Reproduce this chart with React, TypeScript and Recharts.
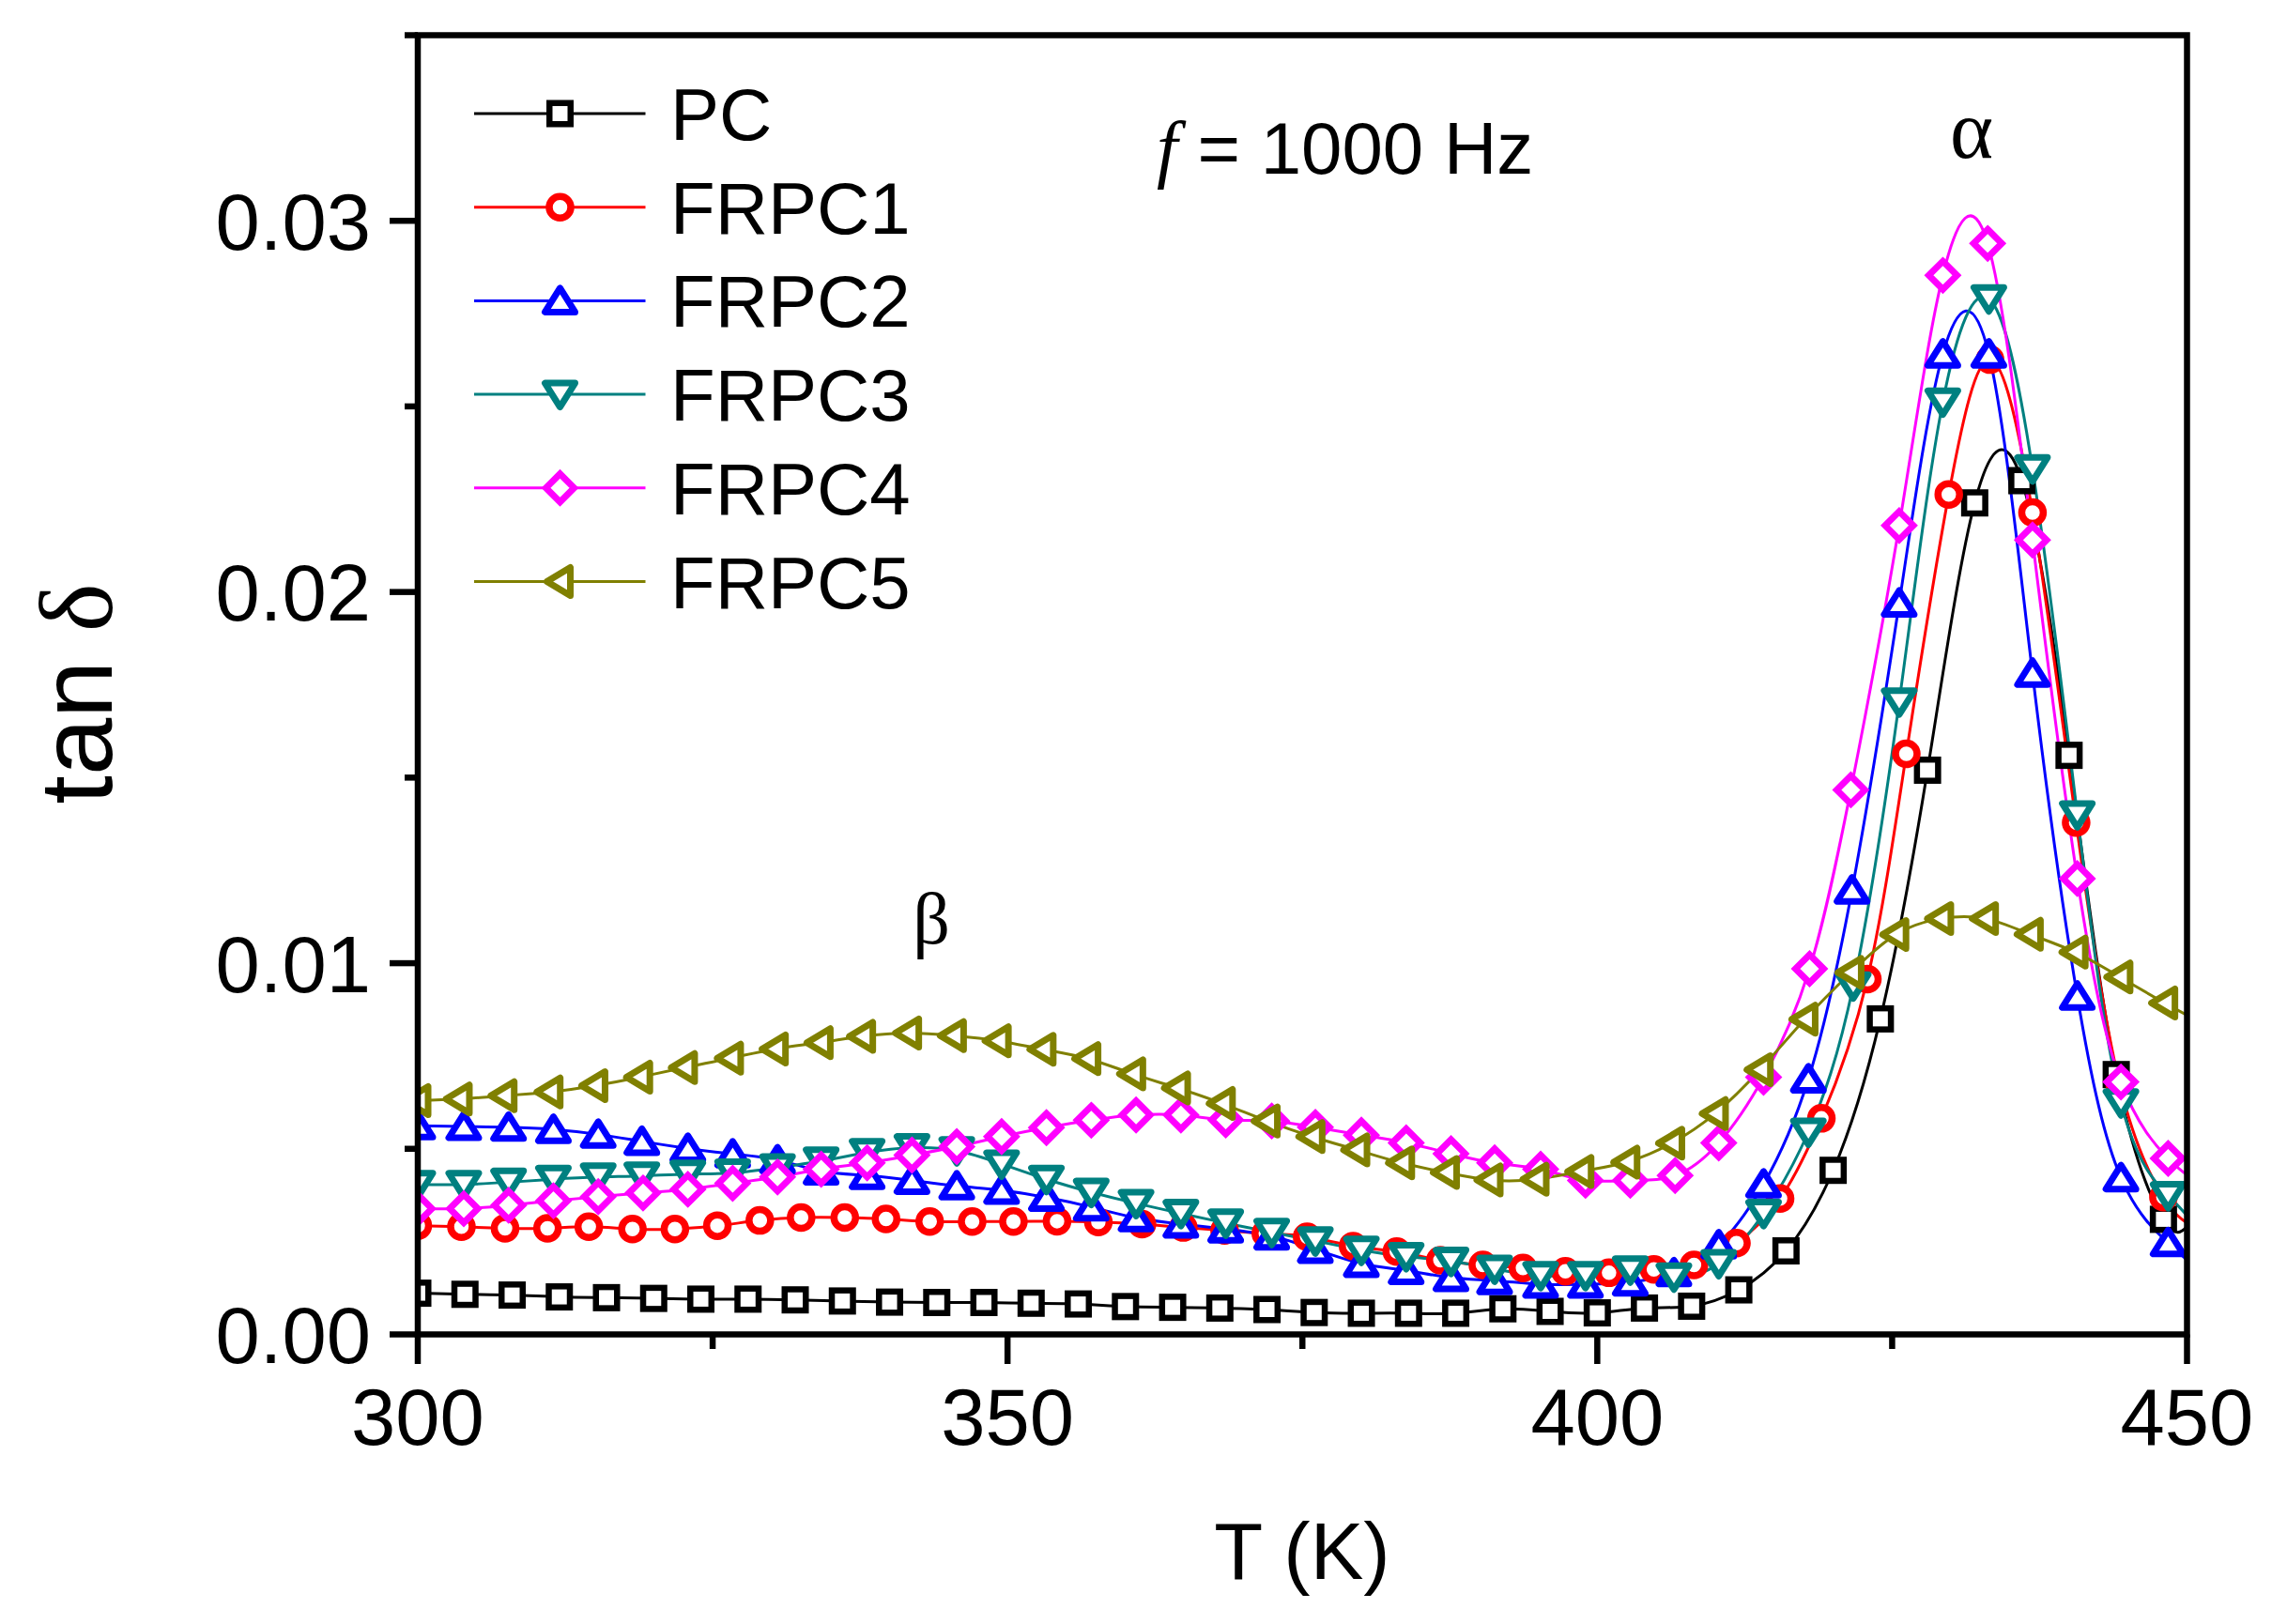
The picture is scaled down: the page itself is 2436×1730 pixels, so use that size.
import React from 'react';
import { LineChart, Line, XAxis, YAxis } from 'recharts';

// ---------- data (T in K, tan delta) ----------
const PC_T = [300, 304, 308, 312, 316, 320, 324, 328, 332, 336, 340, 344, 348, 352, 356, 360, 364, 368, 372, 376, 380, 384, 388, 392, 396, 400, 404, 408, 412, 416, 420, 424, 428, 432, 436, 440, 444, 448, 450];
const PC_V = [0.00111, 0.00108, 0.00106, 0.00101, 0.00099, 0.00097, 0.00095, 0.00095, 0.00093, 0.0009, 0.00087, 0.00086, 0.00086, 0.00084, 0.00082, 0.00075, 0.00073, 0.00071, 0.00067, 0.00059, 0.00057, 0.00057, 0.00057, 0.00069, 0.00062, 0.00058, 0.00071, 0.00076, 0.0012, 0.00225, 0.00442, 0.0085, 0.0152, 0.0224, 0.0230, 0.0156, 0.0070, 0.0031, 0.0029];

const FRPC1_T = [300, 303.7, 307.4, 311.0, 314.5, 318.2, 321.8, 325.4, 329.0, 332.5, 336.2, 339.7, 343.4, 347.0, 350.5, 354.2, 357.7, 361.4, 364.9, 368.4, 371.9, 375.4, 379.3, 383.0, 386.7, 390.3, 393.7, 397.3, 401.0, 404.8, 408.2, 411.8, 415.5, 419.0, 422.9, 426.2, 429.8, 433.3, 436.9, 440.6, 444.3, 448.0, 450];
const FRPC1_V = [0.00293, 0.0029, 0.00286, 0.00286, 0.0029, 0.00284, 0.00284, 0.00293, 0.00307, 0.00315, 0.00315, 0.00311, 0.00304, 0.00304, 0.00304, 0.00305, 0.00303, 0.00297, 0.00288, 0.0028, 0.00272, 0.00263, 0.00238, 0.00223, 0.002, 0.00187, 0.00179, 0.0017, 0.00166, 0.00175, 0.00187, 0.00246, 0.00366, 0.00582, 0.00957, 0.01564, 0.02263, 0.02626, 0.02214, 0.01379, 0.00673, 0.0037, 0.0030];

const FRPC2_T = [300, 303.9, 307.7, 311.5, 315.3, 319.0, 322.9, 326.7, 330.5, 334.2, 338.1, 341.9, 345.7, 349.5, 353.3, 357.1, 360.9, 364.7, 368.5, 372.4, 376.1, 380.0, 383.8, 387.6, 391.3, 395.2, 399.0, 402.8, 406.5, 410.3, 414.1, 417.9, 421.6, 425.6, 429.3, 433.2, 436.9, 440.7, 444.4, 448.4, 450];
const FRPC2_V = [0.00562, 0.0056, 0.00558, 0.00552, 0.00539, 0.0052, 0.00501, 0.00486, 0.0047, 0.0044, 0.00428, 0.00415, 0.004, 0.00388, 0.00369, 0.00343, 0.00314, 0.00297, 0.00284, 0.00265, 0.00229, 0.00191, 0.00172, 0.00153, 0.00145, 0.00135, 0.00135, 0.00141, 0.00166, 0.00241, 0.00405, 0.00688, 0.01197, 0.0197, 0.02641, 0.02641, 0.01781, 0.00911, 0.00422, 0.00247, 0.0020];

const FRPC3_T = [300, 303.9, 307.7, 311.5, 315.3, 319.0, 322.9, 326.7, 330.5, 334.2, 338.1, 341.9, 345.7, 349.5, 353.3, 357.1, 360.9, 364.7, 368.5, 372.4, 376.1, 380.0, 383.8, 387.6, 391.3, 395.2, 399.0, 402.8, 406.5, 410.3, 414.1, 417.9, 421.7, 425.6, 429.3, 433.2, 436.9, 440.7, 444.4, 448.4, 450];
const FRPC3_V = [0.00404, 0.00404, 0.0041, 0.00418, 0.00424, 0.00427, 0.00432, 0.00435, 0.00449, 0.00467, 0.0049, 0.00503, 0.00495, 0.00459, 0.00418, 0.00383, 0.00353, 0.00326, 0.003, 0.00275, 0.00252, 0.00227, 0.0021, 0.00197, 0.00176, 0.00159, 0.00159, 0.00174, 0.00155, 0.00191, 0.00326, 0.00545, 0.00939, 0.01704, 0.02512, 0.0279, 0.02332, 0.0140, 0.00624, 0.00374, 0.0032];

const FRPC4_T = [300, 303.9, 307.7, 311.5, 315.3, 319.1, 322.9, 326.7, 330.5, 334.2, 338.1, 341.9, 345.7, 349.5, 353.3, 357.1, 360.9, 364.7, 368.5, 372.4, 376.1, 380.0, 383.8, 387.6, 391.3, 395.2, 399.0, 402.8, 406.6, 410.3, 414.1, 418.0, 421.5, 425.6, 429.3, 433.1, 436.9, 440.7, 444.4, 448.4, 450];
const FRPC4_V = [0.00339, 0.00339, 0.00348, 0.0036, 0.00371, 0.00381, 0.00391, 0.00407, 0.00424, 0.00445, 0.00462, 0.00483, 0.00506, 0.00533, 0.00557, 0.00577, 0.00591, 0.00591, 0.00578, 0.00575, 0.00558, 0.00537, 0.00516, 0.00487, 0.00462, 0.00445, 0.00415, 0.00415, 0.00428, 0.00516, 0.00693, 0.00985, 0.01467, 0.02179, 0.02853, 0.02939, 0.0214, 0.01228, 0.0068, 0.00474, 0.0043];

const FRPC5_T = [300, 303.5, 307.3, 311.2, 315.0, 318.8, 322.6, 326.5, 330.3, 334.1, 337.7, 341.6, 345.4, 349.2, 353.0, 356.8, 360.6, 364.4, 368.2, 372.0, 375.8, 379.6, 383.4, 387.2, 390.9, 394.8, 398.6, 402.5, 406.3, 410.0, 413.8, 417.6, 421.5, 425.3, 429.1, 432.9, 436.7, 440.5, 444.3, 448.1, 450];
const FRPC5_V = [0.0063, 0.00634, 0.00643, 0.00653, 0.0067, 0.00693, 0.00719, 0.00744, 0.00769, 0.00786, 0.00803, 0.00812, 0.00805, 0.00791, 0.00768, 0.00743, 0.00702, 0.00664, 0.00622, 0.00575, 0.00533, 0.00497, 0.00462, 0.00436, 0.00416, 0.00418, 0.00439, 0.00464, 0.00515, 0.00595, 0.00713, 0.00849, 0.00975, 0.01077, 0.0112, 0.0112, 0.01078, 0.0103, 0.00963, 0.00893, 0.0086];

const SERIES_NAMES = ['PC', 'FRPC1', 'FRPC2', 'FRPC3', 'FRPC4', 'FRPC5'];
const SERIES_COLORS = ['#000000', '#FF0000', '#0000FF', '#008080', '#FF00FF', '#808000'];
const SERIES_SHAPES = ['square', 'circle', 'up', 'down', 'diamond', 'left'];

const X_TICKS = [300, 325, 350, 375, 400, 425, 450];
const Y_TICKS = [0, 0.005, 0.01, 0.015, 0.02, 0.025, 0.03, 0.035];

const toRows = (t: number[], v: number[]) => t.map((T, i) => ({ T, v: v[i] }));
const SERIES_DATA = [
  toRows(PC_T, PC_V),
  toRows(FRPC1_T, FRPC1_V),
  toRows(FRPC2_T, FRPC2_V),
  toRows(FRPC3_T, FRPC3_V),
  toRows(FRPC4_T, FRPC4_V),
  toRows(FRPC5_T, FRPC5_V),
];

// ---------- layout ----------
const W = 2436;
const H = 1730;
const PLOT_LEFT = 445;
const PLOT_RIGHT = 2329.5;
const PLOT_TOP = 37.5;
const PLOT_BOTTOM = 1421.5;
const SANS = '"Liberation Sans", Arial, Helvetica, sans-serif';
const SERIF = '"Liberation Serif", "Times New Roman", serif';

function Marker({ shape, cx, cy, color }: { shape: string; cx: number; cy: number; color: string }) {
  const common = { fill: '#ffffff', stroke: color };
  switch (shape) {
    case 'square':
      return <rect x={cx - 11.25} y={cy - 11.25} width={22.5} height={22.5} {...common} strokeWidth={6.5} />;
    case 'circle':
      return <circle cx={cx} cy={cy} r={11.5} {...common} strokeWidth={7.5} />;
    case 'up':
      return (
        <polygon
          points={`${cx},${cy - 13.5} ${cx - 16},${cy + 12} ${cx + 16},${cy + 12}`}
          {...common}
          strokeWidth={7}
          strokeLinejoin="round"
        />
      );
    case 'down':
      return (
        <polygon
          points={`${cx},${cy + 13.5} ${cx - 16},${cy - 12} ${cx + 16},${cy - 12}`}
          {...common}
          strokeWidth={7}
          strokeLinejoin="round"
        />
      );
    case 'diamond':
      return (
        <polygon
          points={`${cx},${cy - 15} ${cx + 15},${cy} ${cx},${cy + 15} ${cx - 15},${cy}`}
          {...common}
          strokeWidth={7}
          strokeLinejoin="miter"
        />
      );
    case 'left':
    default:
      return (
        <polygon
          points={`${cx - 14},${cy} ${cx + 11},${cy - 15} ${cx + 11},${cy + 15}`}
          {...common}
          strokeWidth={7}
          strokeLinejoin="round"
        />
      );
  }
}

const XTick = (props: any) => {
  const { x, payload } = props;
  const v = payload.value;
  const major = Math.round(v) % 50 === 0;
  return (
    <g>
      <line x1={x} x2={x} y1={PLOT_BOTTOM} y2={PLOT_BOTTOM + (major ? 31.5 : 15.5)} stroke="#000" strokeWidth={6.5} />
      {major && (
        <text x={x} y={1539} textAnchor="middle" fontSize={85} fontFamily={SANS} fill="#000">
          {v}
        </text>
      )}
    </g>
  );
};

const YTick = (props: any) => {
  const { y, payload } = props;
  const v = payload.value;
  const major = Math.round(v * 1000) % 10 === 0;
  return (
    <g>
      <line x1={PLOT_LEFT} x2={PLOT_LEFT - (major ? 30 : 14)} y1={y} y2={y} stroke="#000" strokeWidth={6.5} />
      {major && (
        <text x={395} y={y + 30.5} textAnchor="end" fontSize={85} fontFamily={SANS} fill="#000">
          {v.toFixed(2)}
        </text>
      )}
    </g>
  );
};

const LEGEND_Y0 = 121;
const LEGEND_DY = 99.7;

export default function App() {
  return (
    <div style={{ position: 'absolute', left: 0, top: 0, width: W, height: H, background: '#ffffff' }}>
      <LineChart
        width={W}
        height={H}
        margin={{ top: PLOT_TOP, right: W - PLOT_RIGHT, bottom: 108.5, left: 0 }}
      >
        <XAxis
          type="number"
          dataKey="T"
          domain={[300, 450]}
          allowDataOverflow
          ticks={X_TICKS}
          interval={0}
          tick={XTick}
          tickLine={false}
          axisLine={false}
          tickSize={0}
          tickMargin={0}
          height={200}
        />
        <YAxis
          type="number"
          domain={[0, 0.035]}
          allowDataOverflow
          ticks={Y_TICKS}
          interval={0}
          tick={YTick}
          tickLine={false}
          axisLine={false}
          tickSize={0}
          tickMargin={0}
          width={PLOT_LEFT}
        />
        {SERIES_NAMES.map((name, si) => (
          <Line
            key={name}
            name={name}
            data={SERIES_DATA[si]}
            dataKey="v"
            type="natural"
            stroke={SERIES_COLORS[si]}
            strokeWidth={3}
            isAnimationActive={false}
            activeDot={false}
            dot={(p: any) => {
              const { cx, cy, payload, index } = p;
              if (cx == null || cy == null || payload.T > 449.5) return <g key={`d-${name}-${index}`} />;
              return (
                <g key={`d-${name}-${index}`}>
                  <Marker shape={SERIES_SHAPES[si]} cx={cx} cy={cy} color={SERIES_COLORS[si]} />
                </g>
              );
            }}
          />
        ))}
      </LineChart>
      <svg
        width={W}
        height={H}
        style={{ position: 'absolute', left: 0, top: 0, pointerEvents: 'none' }}
      >
        <rect
          x={PLOT_LEFT}
          y={PLOT_TOP}
          width={PLOT_RIGHT - PLOT_LEFT}
          height={PLOT_BOTTOM - PLOT_TOP}
          fill="none"
          stroke="#000"
          strokeWidth={6.5}
        />
        {/* legend */}
        {SERIES_NAMES.map((name, si) => {
          const y = LEGEND_Y0 + si * LEGEND_DY;
          return (
            <g key={`lg-${name}`}>
              <line x1={505} x2={687.5} y1={y} y2={y} stroke={SERIES_COLORS[si]} strokeWidth={3} />
              <Marker shape={SERIES_SHAPES[si]} cx={596.5} cy={y} color={SERIES_COLORS[si]} />
              <text x={714} y={y + 28} fontSize={78} fontFamily={SANS} fill="#000">
                {name}
              </text>
            </g>
          );
        })}
        {/* annotations */}
        <text x={1232} y={185} fontSize={80} fontFamily={SERIF} fontStyle="italic" fill="#000">
          f
        </text>
        <text x={1275.5} y={185} fontSize={78} fontFamily={SANS} fill="#000">
          = 1000 Hz
        </text>
        <text x={2100} y={168} textAnchor="middle" fontSize={88} fontFamily={SERIF} fill="#000">
          α
        </text>
        <text x={992} y={1005} textAnchor="middle" fontSize={78} fontFamily={SERIF} fill="#000">
          β
        </text>
        {/* axis titles */}
        <text x={1387} y={1681.5} textAnchor="middle" fontSize={85} fontFamily={SANS} fill="#000">
          T (K)
        </text>
        <text transform="translate(119,739) rotate(-90)" textAnchor="middle" fontSize={110} fill="#000">
          <tspan fontFamily={SANS}>tan </tspan>
          <tspan fontFamily={SERIF}>δ</tspan>
        </text>
      </svg>
    </div>
  );
}
